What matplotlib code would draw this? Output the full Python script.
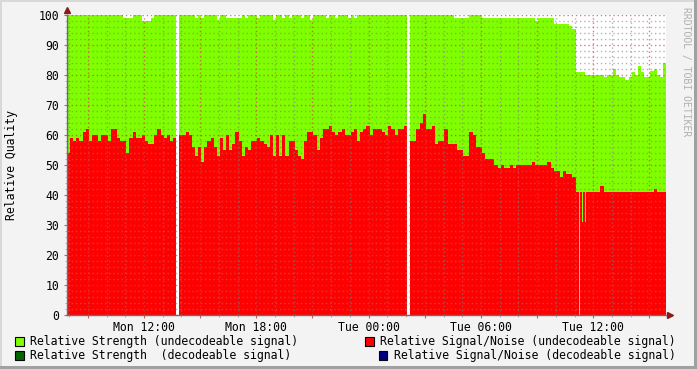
import numpy as np
import matplotlib
matplotlib.use("Agg")
import matplotlib.pyplot as plt
from matplotlib.patches import Rectangle
from matplotlib.ticker import MultipleLocator, FixedLocator, FuncFormatter

nan = np.nan

# time axis in hours since Mon 00:00, one sample every 10 minutes
start_hour = 7.885
step_hours = 1 / 6.0

# Relative Strength (undecodeable signal)
strength = [
    100, 100, 100, 100, 100, 100, 100, 100, 100, 100,
    100, 100, 100, 100, 100, 100, 100, 100, 99, 99,
    99, 100, 100, 100, 98, 98, 98, 99, 100, 100,
    100, 100, 100, 100, 100, nan, 100, 100, 100, 100,
    100, 99, 100, 99, 100, 100, 100, 100, 98.5, 100,
    100, 99, 99, 99, 99, 99, 100, 99, 100, 100,
    100, 99, 100, 100, 100, 100, 98.5, 100, 100, 99,
    100, 99, 100, 100, 100, 99, 100, 100, 98.5, 100,
    100, 100, 100, 99, 100, 100, 99, 100, 100, 100,
    99, 100, 99, 100, 100, 100, 100, 100, 100, 100,
    100, 100, 100, 100, 100, 100, 100, 100, 100, nan,
    100, 100, 100, 100, 100, 100, 100, 100, 100, 100,
    100, 100, 100, 100, 99, 99, 99, 99, 99, 100,
    100, 100, 100, 99, 99, 99, 99, 99, 99, 99,
    99, 99, 99, 99, 99, 99, 99, 99, 99, 99,
    98, 99, 99, 99, 99, 99, 97, 97, 97, 97,
    97, 96.5, 95.5, 81, 81, 81, 80, 80, 80, 80,
    80, 80, 79.5, 80, 80, 82, 80, 79.5, 79.5, 78.5,
    79.5, 81, 80, 83, 81, 79.5, 79.5, 81.5, 82, 80,
    79.5, 84,
]

# Relative Signal/Noise (undecodeable signal)
snr = [
    54, 59, 58, 59, 58, 61, 62, 58, 60, 60,
    58, 60, 60, 58, 62, 62, 59, 58, 58, 54,
    59, 61, 59, 59, 60, 58, 57, 57, 60, 62,
    60, 59, 60, 58, 59, nan, 60, 60, 61, 60,
    56, 53, 56, 51, 56, 58, 59, 56, 53, 59,
    55, 60, 55, 57, 61, 58, 53, 56, 55, 58,
    58, 59, 58, 57, 56, 60, 53, 60, 53, 60,
    53, 58, 58, 55, 53, 52, 58, 61, 61, 60,
    55, 59, 62, 62, 63, 61, 60, 61, 62, 60,
    60, 61, 62, 58, 61, 62, 63, 60, 62, 62,
    62, 61, 60, 63, 62, 60, 62, 62, 63, nan,
    58, 58, 62, 64, 67, 62, 62, 63, 57, 58,
    58, 62, 57, 57, 57, 55, 55, 53, 53, 61,
    60, 56, 56, 54, 52, 52, 52, 50, 49, 50,
    49, 49, 50, 49, 50, 50, 50, 50, 50, 51,
    50, 50, 50, 50, 51, 49, 48, 48, 46, 48,
    47, 47, 46, 41, 41, 41, 41, 41, 41, 41,
    41, 43, 41, 41, 41, 41, 41, 41, 41, 41,
    41, 41, 41, 41, 41, 41, 41, 41, 42, 41,
    41, 41,
]

# short single drops of the S/N value
snr_dip_hours = [35.27, 35.40, 35.59]
snr_dip_values = [0, 31, 31]

tick_hours = [12, 18, 24, 30, 36]
tick_labels = ["Mon 12:00", "Mon 18:00", "Tue 00:00", "Tue 06:00", "Tue 12:00"]

legend_labels = [
    "Relative Strength (undecodeable signal)",
    "Relative Signal/Noise (undecodeable signal)",
    "Relative Strength  (decodeable signal)",
    "Relative Signal/Noise (decodeable signal)",
]
legend_colors = ["#7fff00", "#ff0000", "#006600", "#000080"]

W, H = 697, 369
MONO = "DejaVu Sans Mono"
FS = 8.3


def px(x):
    return x / W


def py(y):
    return 1 - y / H


fig = plt.figure(figsize=(W / 100, H / 100), dpi=100, facecolor="#f3f3f3")
ax = fig.add_axes([px(67), py(315), (666 - 67) / W, 300 / H])
ax.set_facecolor("white")

t = start_hour + np.arange(len(snr)) * step_hours
ax.bar(t, strength, width=step_hours, align="edge", color="#7fff00",
       linewidth=0, antialiased=False, zorder=1)
ax.bar(t, snr, width=step_hours, align="edge", color="#ff0000",
       linewidth=0, antialiased=False, zorder=1.1)
# the dips: green shows through down to the dip value
dip_level = [snr[int((h - start_hour) / step_hours)] for h in snr_dip_hours]
ax.bar(snr_dip_hours, np.array(dip_level) - np.array(snr_dip_values),
       bottom=snr_dip_values, width=0.055, color="#7fff00",
       linewidth=0, antialiased=False, zorder=1.2)

x_end = start_hour + len(snr) * step_hours
ax.set_xlim(start_hour, x_end)
ax.set_ylim(0, 100)

# grid: hours / 3-hour marks, 2 and 10 units
ax.xaxis.set_major_locator(FixedLocator(np.arange(9, 40, 3)))
ax.xaxis.set_minor_locator(MultipleLocator(1))
ax.xaxis.set_major_formatter(FuncFormatter(
    lambda v, p: tick_labels[tick_hours.index(int(round(v)))] if int(round(v)) in tick_hours else ""))
ax.yaxis.set_major_locator(MultipleLocator(10))
ax.yaxis.set_minor_locator(MultipleLocator(2))

ax.set_axisbelow(False)
ax.grid(which="minor", color="#808080", alpha=0.6, linestyle=(0, (1, 2)), linewidth=1.0, zorder=3)
ax.grid(which="major", color="#d04040", alpha=0.7, linestyle=(0, (1, 2)), linewidth=1.0, zorder=3)

for s in ["top", "right"]:
    ax.spines[s].set_visible(False)
for s in ["left", "bottom"]:
    ax.spines[s].set_color("#6a6a7a")
    ax.spines[s].set_linewidth(1.0)
    ax.spines[s].set_zorder(4)

ax.tick_params(which="major", length=2.5, width=0.8, color="#c06060", pad=1.5,
               labelsize=FS, labelcolor="black")
ax.tick_params(axis="y", which="major", pad=3)
ax.tick_params(which="minor", length=1.5, width=0.6, color="#c0a0a0")
for lab in ax.get_xticklabels() + ax.get_yticklabels():
    lab.set_fontfamily(MONO)

# axis arrows
ax.plot([0], [1.017], marker="^", markersize=4, color="#8b1a1a",
        transform=ax.transAxes, clip_on=False)
ax.plot([1.007], [0], marker=">", markersize=4, color="#8b1a1a",
        transform=ax.transAxes, clip_on=False)

fig.text(px(12), py(165), "Relative Quality", rotation=90, ha="center", va="center",
         fontsize=FS, family=MONO)
fig.text(px(686), py(72), "RRDTOOL / TOBI OETIKER", rotation=270, ha="center",
         va="center", fontsize=7, family=MONO, color="#b0b0b0")

# legend
legend_pos = [(15, 341, 30), (365, 341, 380), (15, 355, 30), (379, 355, 394)]
for (sx, sy, tx), lab, col in zip(legend_pos, legend_labels, legend_colors):
    fig.patches.append(Rectangle((px(sx), py(sy + 4.5)), 8.5 / W, 8.5 / H,
                                 transform=fig.transFigure, facecolor=col,
                                 edgecolor="black", linewidth=0.8))
    fig.text(px(tx), py(sy), lab, ha="left", va="center", fontsize=FS, family=MONO)

# frame around the image
fig.patches.append(Rectangle((0, py(2)), 1, 2 / H, transform=fig.transFigure,
                             facecolor="#d8d8d8", edgecolor="none"))
fig.patches.append(Rectangle((0, 0), 2 / W, 1, transform=fig.transFigure,
                             facecolor="#d8d8d8", edgecolor="none"))
fig.patches.append(Rectangle((px(694), 0), 3 / W, 1, transform=fig.transFigure,
                             facecolor="#a0a0a0", edgecolor="none"))
fig.patches.append(Rectangle((0, 0), 1, 3 / H, transform=fig.transFigure,
                             facecolor="#a0a0a0", edgecolor="none"))

fig.savefig("out.png", dpi=100, facecolor=fig.get_facecolor())
